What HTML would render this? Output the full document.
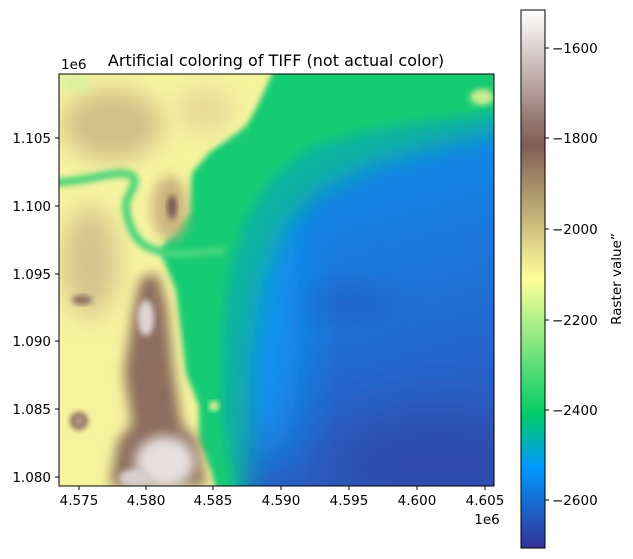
<!DOCTYPE html>
<html><head><meta charset="utf-8"><style>
body{margin:0;background:#fff;}
svg{display:block;font-family:"DejaVu Sans","Liberation Sans",sans-serif;}
</style></head><body>
<svg width="633" height="559" viewBox="0 0 633 559" xmlns="http://www.w3.org/2000/svg">
<defs>
<clipPath id="c"><rect x="59" y="74" width="435" height="412"/></clipPath>
<filter id="b3" x="-20%" y="-20%" width="140%" height="140%"><feGaussianBlur stdDeviation="3"/></filter>
<filter id="b6" x="-20%" y="-20%" width="140%" height="140%"><feGaussianBlur stdDeviation="6"/></filter>
<filter id="b12" x="-30%" y="-30%" width="160%" height="160%"><feGaussianBlur stdDeviation="12"/></filter>
<filter id="b25" x="-50%" y="-50%" width="200%" height="200%"><feGaussianBlur stdDeviation="25"/></filter>
<linearGradient id="cb" x1="0" y1="0" x2="0" y2="1">
<stop offset="0" stop-color="#ffffff"/>
<stop offset="0.25" stop-color="#805c54"/>
<stop offset="0.5" stop-color="#ffff99"/>
<stop offset="0.75" stop-color="#00cc66"/>
<stop offset="0.85" stop-color="#0099ff"/>
<stop offset="1" stop-color="#333399"/>
</linearGradient>
<linearGradient id="bg" x1="0" y1="0" x2="0.3" y2="1">
<stop offset="0" stop-color="#0a94f4"/>
<stop offset="0.45" stop-color="#1484e6"/>
<stop offset="0.75" stop-color="#206ed4"/>
<stop offset="1" stop-color="#2a5cc0"/>
</linearGradient>
</defs>
<g clip-path="url(#c)">
<rect x="40" y="60" width="470" height="440" fill="url(#bg)"/>
<ellipse cx="440" cy="465" rx="110" ry="50" fill="#2f4cae" filter="url(#b25)"/>
<ellipse cx="345" cy="305" rx="55" ry="20" fill="#2068cc" filter="url(#b12)"/>
<ellipse cx="265" cy="330" rx="35" ry="140" fill="#0a96f4" filter="url(#b25)"/>
<polygon points="40,60 510,60 510,130 440,145 370,165 320,190 285,225 262,280 250,360 248,500 40,500" fill="#10b4a0" filter="url(#b12)"/>
<polygon points="40,60 510,60 510,110 430,120 360,132 305,150 270,180 245,220 230,270 222,330 222,420 236,500 40,500" fill="#14cc72" filter="url(#b6)"/>
<ellipse cx="482" cy="97" rx="12" ry="8" fill="#c8ec90" filter="url(#b3)"/>
<polygon points="40,60 276,60 272,74 258,105 246,126 209,153 192,173 189,213 172,233 160,250 166,266 176,290 182,340 186,373 199,406 199,440 212,473 218,500 40,500" fill="#f6f39e" filter="url(#b3)"/>
<ellipse cx="112" cy="125" rx="50" ry="35" fill="#d2c088" filter="url(#b12)"/>
<ellipse cx="170" cy="208" rx="18" ry="32" fill="#ccb47e" filter="url(#b6)"/>
<ellipse cx="90" cy="262" rx="28" ry="55" fill="#d6c48c" filter="url(#b12)"/>
<ellipse cx="205" cy="110" rx="28" ry="22" fill="#e6da9a" filter="url(#b12)"/>
<ellipse cx="75" cy="82" rx="16" ry="10" fill="#d8f0a0" filter="url(#b6)"/>
<path d="M40,181 C80,186 110,170 128,174 C145,180 124,195 126,208 C128,225 135,242 150,248 C170,257 190,254 225,250" stroke="#48d47c" stroke-width="8" fill="none" filter="url(#b3)"/>
<ellipse cx="172" cy="207" rx="5" ry="12" fill="#7a5a52" filter="url(#b3)"/>
<ellipse cx="82" cy="300" rx="10" ry="5" fill="#8e7060" filter="url(#b3)"/>
<polygon points="141,277 158,274 167,306 174,373 182,425 198,440 206,486 110,486 118,440 132,425 124,373 134,306" fill="#8e6e5e" filter="url(#b6)"/>
<ellipse cx="146" cy="318" rx="8" ry="18" fill="#e0d6d6" filter="url(#b3)"/>
<ellipse cx="165" cy="462" rx="30" ry="26" fill="#e6e0e0" filter="url(#b6)"/>
<ellipse cx="135" cy="478" rx="16" ry="9" fill="#d8d0d0" filter="url(#b3)"/>
<circle cx="79" cy="421" r="9" fill="#8a6a5c" filter="url(#b3)"/>
<circle cx="79" cy="421" r="4" fill="#c0b0b0" filter="url(#b3)"/>
<circle cx="164" cy="395" r="5" fill="#8a6a5c" filter="url(#b3)"/>
<circle cx="214" cy="406" r="5" fill="#f6f39e" filter="url(#b3)"/>
</g>
<rect x="59" y="74" width="435" height="412" fill="none" stroke="#000" stroke-width="1"/>
<g stroke="#000" stroke-width="1">
<line x1="79" y1="486" x2="79" y2="490"/><line x1="146" y1="486" x2="146" y2="490"/><line x1="213" y1="486" x2="213" y2="490"/><line x1="281" y1="486" x2="281" y2="490"/><line x1="349" y1="486" x2="349" y2="490"/><line x1="417" y1="486" x2="417" y2="490"/><line x1="485" y1="486" x2="485" y2="490"/>
<line x1="55" y1="138" x2="59" y2="138"/><line x1="55" y1="206" x2="59" y2="206"/><line x1="55" y1="274" x2="59" y2="274"/><line x1="55" y1="341" x2="59" y2="341"/><line x1="55" y1="409" x2="59" y2="409"/><line x1="55" y1="477" x2="59" y2="477"/>
</g>
<g font-size="13.5" fill="#000" text-anchor="middle">
<text x="79" y="505">4.575</text><text x="146" y="505">4.580</text><text x="213" y="505">4.585</text><text x="281" y="505">4.590</text><text x="349" y="505">4.595</text><text x="417" y="505">4.600</text><text x="485" y="505">4.605</text>
<text x="487" y="524">1e6</text>
</g>
<g font-size="13.5" fill="#000" text-anchor="end">
<text x="51" y="143">1.105</text><text x="51" y="211">1.100</text><text x="51" y="279">1.095</text><text x="51" y="346">1.090</text><text x="51" y="414">1.085</text><text x="51" y="482">1.080</text>
</g>
<text x="61" y="69" font-size="13.5">1e6</text>
<text x="276" y="66" font-size="16" text-anchor="middle">Artificial coloring of TIFF (not actual color)</text>
<rect x="521" y="10" width="24" height="538" fill="url(#cb)" stroke="#000" stroke-width="1"/>
<g stroke="#000" stroke-width="1">
<line x1="545" y1="48" x2="549" y2="48"/><line x1="545" y1="138" x2="549" y2="138"/><line x1="545" y1="229" x2="549" y2="229"/><line x1="545" y1="320" x2="549" y2="320"/><line x1="545" y1="410" x2="549" y2="410"/><line x1="545" y1="500" x2="549" y2="500"/>
</g>
<g font-size="13.5" fill="#000">
<text x="552" y="53">−1600</text><text x="552" y="143">−1800</text><text x="552" y="234">−2000</text><text x="552" y="325">−2200</text><text x="552" y="415">−2400</text><text x="552" y="505">−2600</text>
</g>
<text transform="translate(621,279) rotate(-90)" font-size="13.5" text-anchor="middle">Raster value”</text>
</svg>
</body></html>
